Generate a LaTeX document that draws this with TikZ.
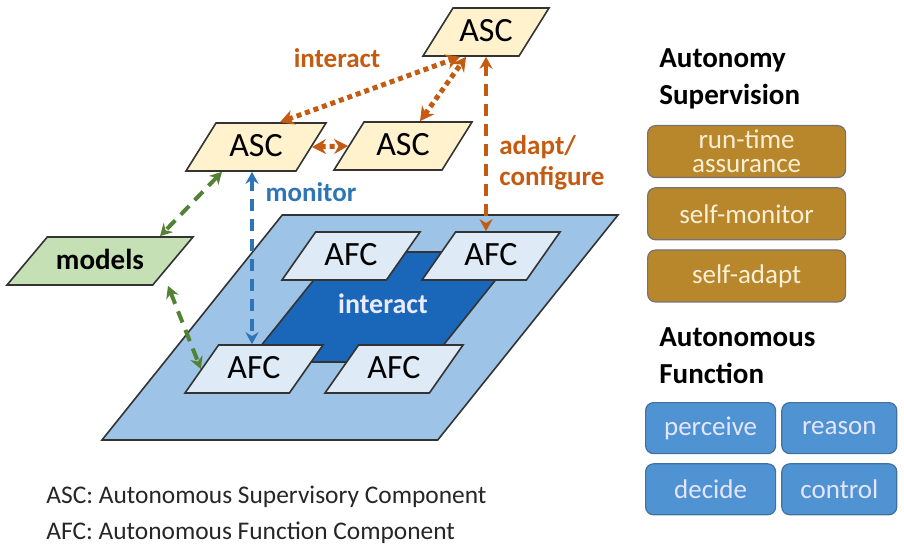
\documentclass[tikz,border=0pt]{standalone}
\usepackage{fontspec}
\setmainfont{Carlito}
\usepackage{tikz}
\usetikzlibrary{arrows.meta,positioning,shapes.geometric}
\usepackage{xcolor}

\definecolor{ascfill}{HTML}{FFF2CC}
\definecolor{modfill}{HTML}{C5E0B4}
\definecolor{planefill}{HTML}{9DC3E6}
\definecolor{corefill}{HTML}{1A66B8}
\definecolor{afcfill}{HTML}{DEEBF7}
\definecolor{supcol}{HTML}{C55A11}
\definecolor{moncol}{HTML}{2E75B6}
\definecolor{modcol}{HTML}{548235}
\definecolor{goldfill}{HTML}{B8862B}
\definecolor{goldtext}{HTML}{FBEFD5}
\definecolor{funfill}{HTML}{4F93D3}
\definecolor{funline}{HTML}{41719C}

\begin{document}
\begin{tikzpicture}[
    x=0.5pt, y=-0.5pt,
    node distance=4.5pt and 2.5pt,
    para/.style={trapezium, trapezium stretches body=true, draw=black!80, line width=0.8pt,
                 inner sep=1pt},
    asc/.style={para, trapezium left angle=58, trapezium right angle=122, fill=ascfill,
                text height=16pt, text depth=6pt, font=\fontsize{17}{20}\selectfont},
    afc/.style={para, trapezium left angle=55, trapezium right angle=125, fill=afcfill,
                minimum width=69pt, text height=16pt, text depth=6pt,
                font=\fontsize{17}{20}\selectfont},
    models/.style={para, trapezium left angle=50, trapezium right angle=130, fill=modfill,
                   minimum width=93pt, text height=15.5pt, text depth=6.5pt,
                   font=\fontsize{14.5}{17}\selectfont\bfseries},
    plane/.style={para, trapezium left angle=51.3, trapezium right angle=128.7, fill=planefill,
                  minimum width=258pt, text height=110.5pt, text depth=0pt},
    core/.style={para, trapezium left angle=51.3, trapezium right angle=128.7, fill=corefill,
                 minimum width=129pt, text height=30pt, text depth=23pt, text=white!92!blue,
                 font=\fontsize{14}{17}\selectfont\bfseries},
    lbl/.style={inner sep=0pt, font=\fontsize{13.5}{15.5}\selectfont\bfseries},
    head/.style={inner sep=0pt, align=left, font=\fontsize{14.5}{18.5}\selectfont\bfseries},
    goldbox/.style={rectangle, rounded corners=4pt, draw=black!55, line width=0.6pt, fill=goldfill,
                    text=goldtext, minimum width=99pt, minimum height=26pt, align=center,
                    inner sep=1pt, font=\fontsize{13.5}{12}\selectfont},
    funbox/.style={rectangle, rounded corners=4pt, draw=funline, line width=0.6pt, fill=funfill,
                   text=white!90!blue, minimum height=25.5pt, inner sep=1pt,
                   font=\fontsize{13.5}{16}\selectfont},
    legend/.style={inner sep=0pt, text=black!85, font=\fontsize{12.7}{15}\selectfont},
    dotarrow/.style={{Stealth[length=7pt,width=7.5pt]}-{Stealth[length=7pt,width=7.5pt]},
                     supcol, line width=2.5pt, dash pattern=on 2.5pt off 2pt},
    dasharrow/.style={{Stealth[length=6pt,width=6.5pt]}-{Stealth[length=6pt,width=6.5pt]},
                      line width=2pt, dash pattern=on 6pt off 4pt}
  ]
  \useasboundingbox (0,0) rectangle (904,550);

  % --- function layer ---
  \node[plane] (plane) at (360,327.5) {};
  \node[core] (core) at (383,307) {interact};
  \node[afc] (afc1) at (351,256) {AFC};
  \node[afc] (afc2) at (491,256) {AFC};
  \node[afc] (afc3) at (254,369) {AFC};
  \node[afc] (afc4) at (394,369) {AFC};

  % --- supervisory components ---
  \node[asc, minimum width=63pt] (asc1) at (486,32) {ASC};
  \node[asc, minimum width=70pt] (asc2) at (256,147) {ASC};
  \node[asc, minimum width=69pt] (asc3) at (403,146) {ASC};
  \node[models] (mod) at (100,261) {models};

  % interactions between the ASCs
  \draw[dotarrow] ([xshift=12pt]asc2.north) -- ([xshift=-13pt]asc1.south);
  \draw[dotarrow] ([xshift=8.5pt]asc3.north) -- ([xshift=-10pt]asc1.south);
  \draw[dotarrow] (asc2.east) -- (asc3.west);
  \node[lbl, text=supcol] (lint) at (337,58) {interact};

  % adapt, monitor and models
  \draw[dasharrow, supcol] (asc1.south) -- (asc1.south |- afc2.north);
  \node[lbl, text=supcol, align=left, anchor=west] (ladapt) at (499,163) {adapt/\\configure};
  \draw[dasharrow, moncol] ([xshift=-2pt]asc2.south) -- ([xshift=-2pt]asc2.south |- afc3.north);
  \node[lbl, text=moncol] (lmon) at (311,192) {monitor};
  \draw[dasharrow, modcol] ([xshift=-17pt]asc2.south) -- ([xshift=30pt]mod.north);
  \draw[dasharrow, modcol] ([xshift=34pt]mod.south) -- (afc3.west);

  % --- right column ---
  \node[head, anchor=west] (suphead) at (659,79) {Autonomy\\Supervision};
  \node[goldbox, anchor=north west] (g1) at (647,125) {run-time\\assurance};
  \node[goldbox, below=of g1] (g2) {self-monitor};
  \node[goldbox, below=of g2] (g3) {self-adapt};

  \node[head, anchor=west] (funhead) at (659,356) {Autonomous\\Function};
  \node[funbox, minimum width=65pt, anchor=north west] (f1) at (645,402) {perceive};
  \node[funbox, minimum width=57.5pt, right=of f1] (f2) {reason};
  \node[funbox, minimum width=65pt, below=of f1] (f3) {decide};
  \node[funbox, minimum width=57.5pt, right=of f3] (f4) {control};

  % --- legend ---
  \node[legend, anchor=west] (leg1) at (46,497) {ASC: Autonomous Supervisory Component};
  \node[legend, anchor=west] (leg2) at (46,533) {AFC: Autonomous Function Component};
\end{tikzpicture}
\end{document}
